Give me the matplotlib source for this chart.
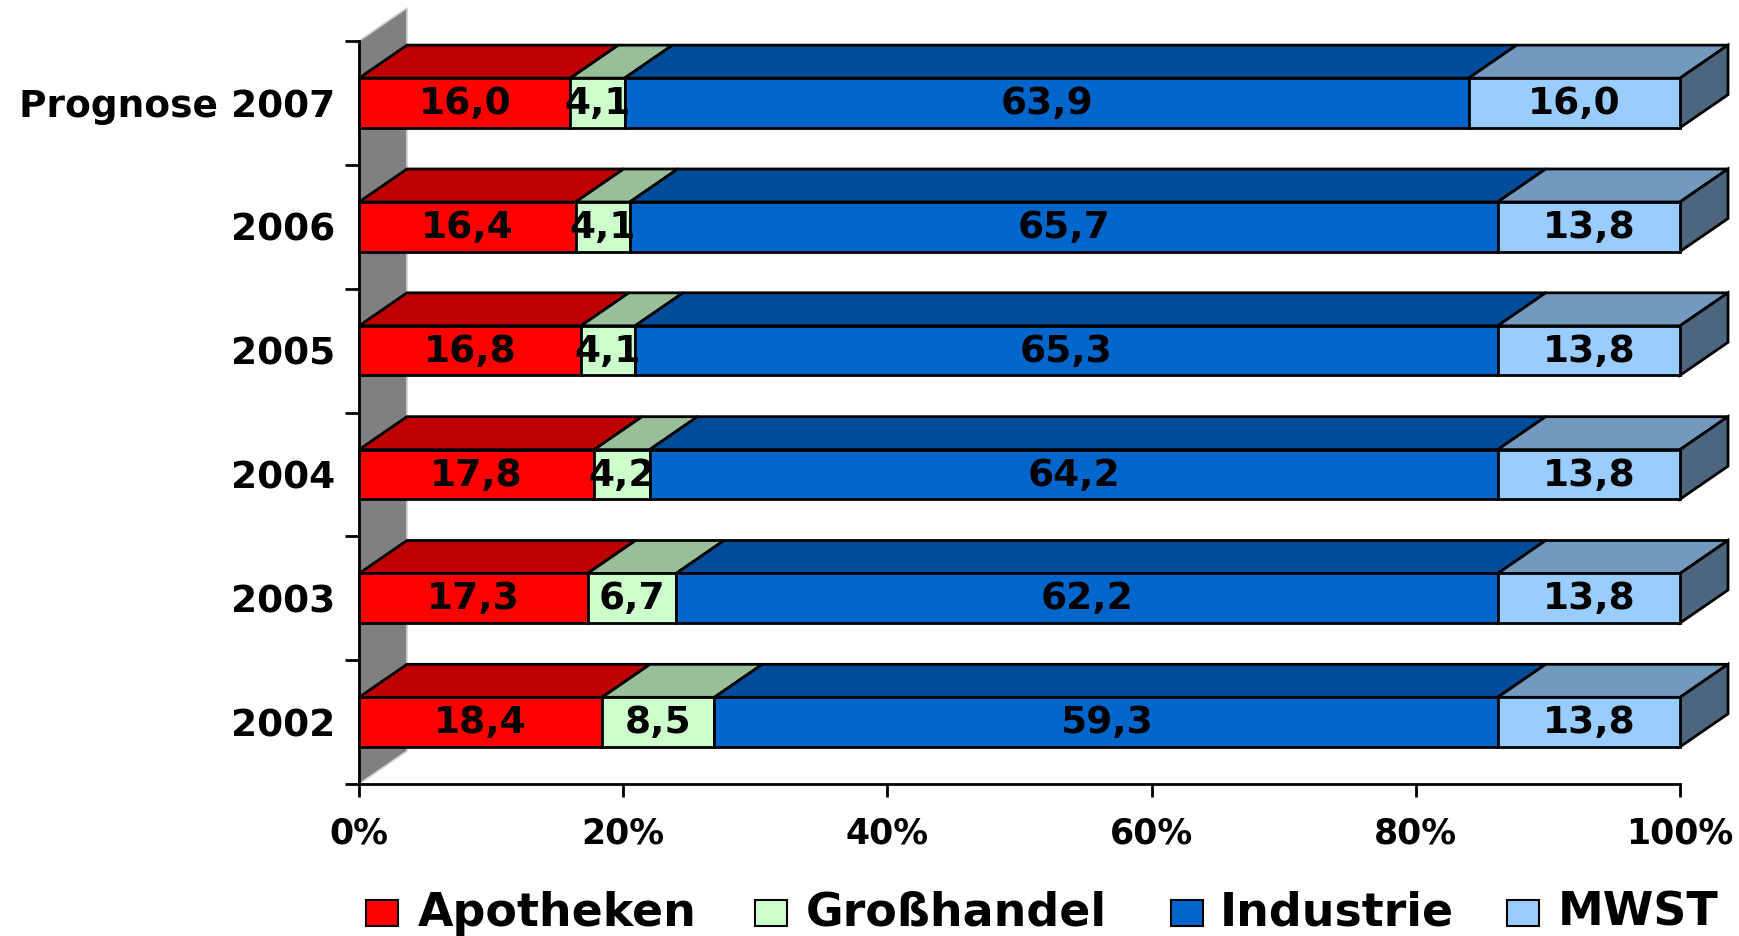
import matplotlib
matplotlib.use("Agg")
import matplotlib.pyplot as plt
from matplotlib.patches import Polygon, Rectangle

plt.rcParams['font.family'] = ['DejaVu Sans']
plt.rcParams['font.weight'] = 'bold'

categories = ["2002", "2003", "2004", "2005", "2006", "Prognose 2007"]
series_names = ["Apotheken", "Großhandel", "Industrie", "MWST"]
apotheken = [18.4, 17.3, 17.8, 16.8, 16.4, 16.0]
grosshandel = [8.5, 6.7, 4.2, 4.1, 4.1, 4.1]
industrie = [59.3, 62.2, 64.2, 65.3, 65.7, 63.9]
mwst = [13.8, 13.8, 13.8, 13.8, 13.8, 16.0]
xticklabels = ["0%", "20%", "40%", "60%", "80%", "100%"]

front_colors = ["#FF0000", "#CCFFCC", "#0066CC", "#99CCFF"]
top_colors = ["#BF0000", "#99BF99", "#004C99", "#7399BF"]
side_color = "#4D6680"

W, H = 1739, 936
fig = plt.figure(figsize=(W / 100, H / 100), dpi=100)
ax_left, ax_right = 359 / W, 1680 / W
ax_bottom, ax_top = (H - 784) / H, (H - 41) / H
ax = fig.add_axes([ax_left, ax_bottom, ax_right - ax_left, ax_top - ax_bottom])
ax.set_xlim(0, 100)
ax.set_ylim(-0.5, len(categories) - 0.5)

# depth in data units
dx = 48 / (1321 / 100)
dy = 33 / (743 / len(categories))
bh = 0.4

# back side wall
wall = Polygon([(0, -0.5), (dx, -0.5 + dy), (dx, len(categories) - 0.5 + dy),
                (0, len(categories) - 0.5)], closed=True, facecolor="#808080",
               edgecolor="#D0D0D0", lw=1.2, clip_on=False, zorder=1)
ax.add_patch(wall)

series = [apotheken, grosshandel, industrie, mwst]
for i, cat in enumerate(categories):
    left = 0.0
    yb, yt = i - bh / 2, i + bh / 2
    for s, vals in enumerate(series):
        v = vals[i]
        x0, x1 = left, left + v
        ax.add_patch(Rectangle((x0, yb), v, bh, facecolor=front_colors[s],
                               edgecolor="black", lw=2, zorder=3, clip_on=False))
        ax.add_patch(Polygon([(x0, yt), (x0 + dx, yt + dy), (x1 + dx, yt + dy), (x1, yt)],
                             closed=True, facecolor=top_colors[s], edgecolor="black",
                             lw=2, zorder=2, clip_on=False))
        if s == len(series) - 1:
            ax.add_patch(Polygon([(x1, yb), (x1, yt), (x1 + dx, yt + dy), (x1 + dx, yb + dy)],
                                 closed=True, facecolor=side_color, edgecolor="black",
                                 lw=2, zorder=2, clip_on=False))
        ax.text((x0 + x1) / 2, i - 0.01, f"{v:.1f}".replace(".", ","), ha="center", va="center",
                fontsize=27, fontweight="bold", zorder=5)
        left = x1

for sp in ["top", "right"]:
    ax.spines[sp].set_visible(False)
ax.spines["left"].set_linewidth(2)
ax.spines["bottom"].set_linewidth(2)
ax.spines["left"].set_zorder(6)
ax.spines["bottom"].set_zorder(6)

ax.set_xticks(range(0, 101, 20))
ax.set_xticklabels(xticklabels)
ax.tick_params(axis="x", length=9.5, width=2, pad=14, labelsize=25)
ax.set_yticks([i - 0.5 for i in range(len(categories) + 1)])
ax.set_yticklabels([])
ax.tick_params(axis="y", which="major", length=10, width=2)
ax.set_yticks(range(len(categories)), minor=True)
ax.set_yticklabels(categories, minor=True)
ax.tick_params(axis="y", which="minor", length=0, pad=17, labelsize=27)
ax.patch.set_alpha(0)

# legend
sq_x = [366, 755, 1171, 1507]
txt_x = [418, 806, 1220, 1558]
for s, name in enumerate(series_names):
    fig.patches.append(Rectangle((sq_x[s] / W, (H - 926) / H), 32 / W, 26 / H,
                                 transform=fig.transFigure, facecolor=front_colors[s],
                                 edgecolor="black", lw=1.5))
    fig.text(txt_x[s] / W, (H - 913) / H, name, fontsize=33, fontweight="bold",
             ha="left", va="center")

fig.savefig("out.png", dpi=100)
